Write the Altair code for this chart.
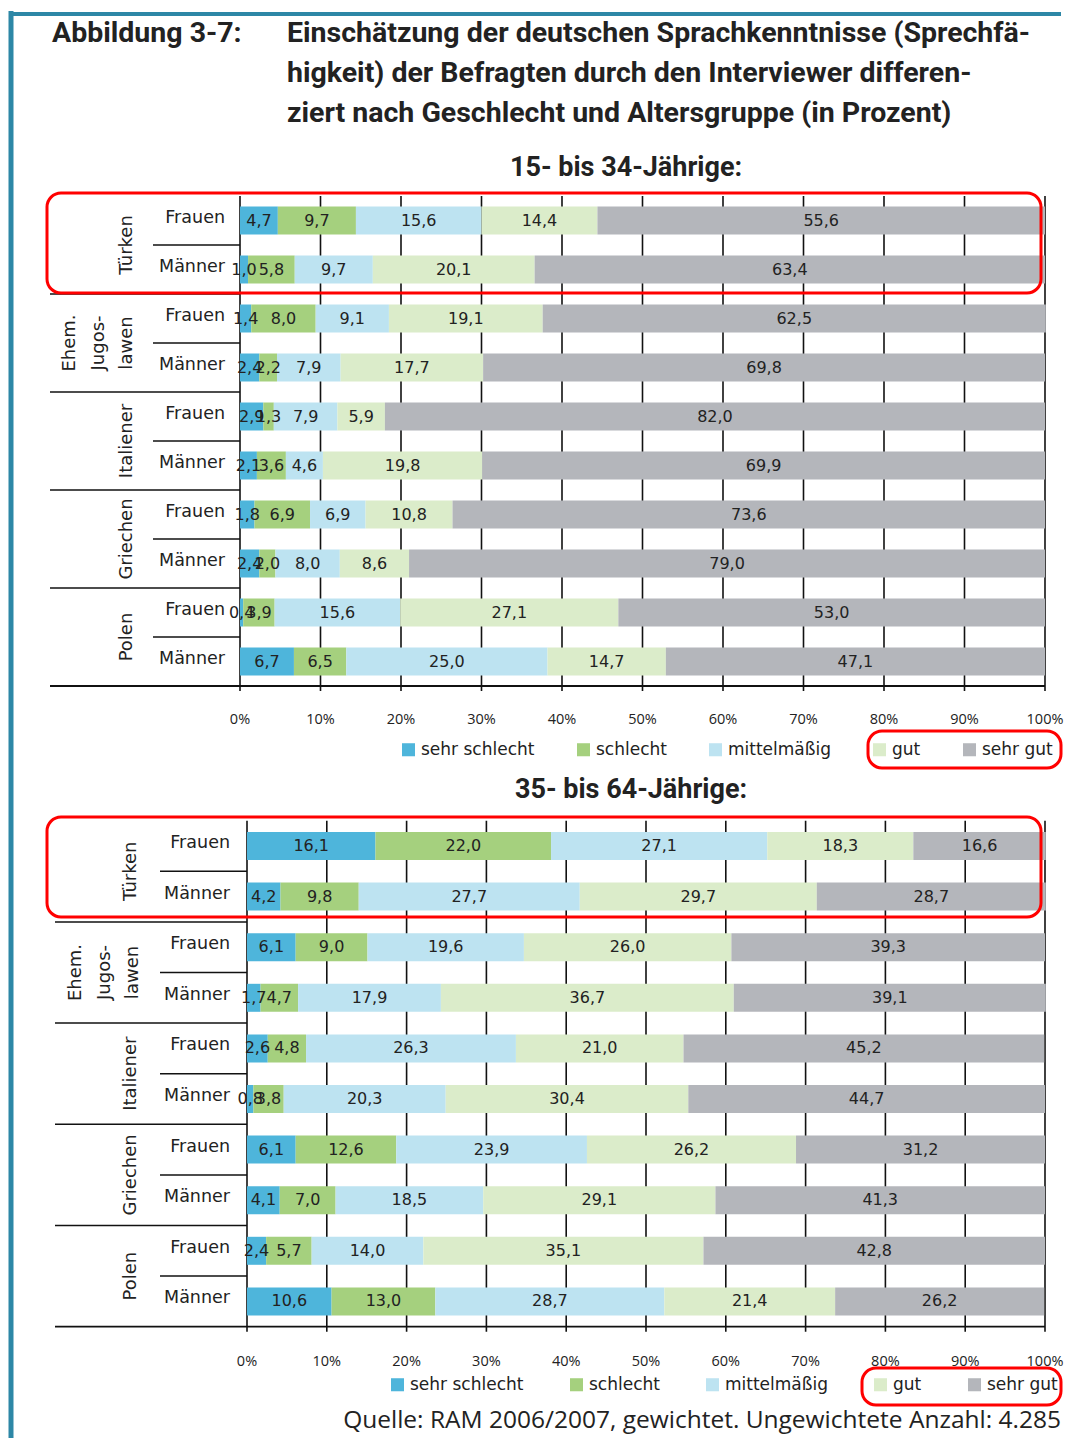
import altair as alt
import pandas as pd

# ---------------- data ----------------
categories = ["sehr schlecht", "schlecht", "mittelmäßig", "gut", "sehr gut"]
colors = ["#4eb5db", "#a5d07e", "#bde3f1", "#dbecca", "#b4b6bb"]
group_names = ["Türken", "Ehem.\nJugos-\nlawen", "Italiener", "Griechen", "Polen"]
genders = ["Frauen", "Männer"]
ticks = [0, 10, 20, 30, 40, 50, 60, 70, 80, 90, 100]

# 15- bis 34-Jährige  (je Gruppe: [Frauen], [Männer]; Werte in Reihenfolge der Kategorien)
young_tuerken = [[4.7, 9.7, 15.6, 14.4, 55.6], [1.0, 5.8, 9.7, 20.1, 63.4]]
young_jugo = [[1.4, 8.0, 9.1, 19.1, 62.5], [2.4, 2.2, 7.9, 17.7, 69.8]]
young_ital = [[2.9, 1.3, 7.9, 5.9, 82.0], [2.1, 3.6, 4.6, 19.8, 69.9]]
young_griech = [[1.8, 6.9, 6.9, 10.8, 73.6], [2.4, 2.0, 8.0, 8.6, 79.0]]
young_polen = [[0.4, 3.9, 15.6, 27.1, 53.0], [6.7, 6.5, 25.0, 14.7, 47.1]]

# 35- bis 64-Jährige
old_tuerken = [[16.1, 22.0, 27.1, 18.3, 16.6], [4.2, 9.8, 27.7, 29.7, 28.7]]
old_jugo = [[6.1, 9.0, 19.6, 26.0, 39.3], [1.7, 4.7, 17.9, 36.7, 39.1]]
old_ital = [[2.6, 4.8, 26.3, 21.0, 45.2], [0.8, 3.8, 20.3, 30.4, 44.7]]
old_griech = [[6.1, 12.6, 23.9, 26.2, 31.2], [4.1, 7.0, 18.5, 29.1, 41.3]]
old_polen = [[2.4, 5.7, 14.0, 35.1, 42.8], [10.6, 13.0, 28.7, 21.4, 26.2]]

fig_label = "Abbildung 3-7:"
title_lines = [
    "Einschätzung der deutschen Sprachkenntnisse (Sprechfä-",
    "higkeit) der Befragten durch den Interviewer differen-",
    "ziert nach Geschlecht und Altersgruppe (in Prozent)",
]
sub_young = "15- bis 34-Jährige:"
sub_old = "35- bis 64-Jährige:"
source = "Quelle: RAM 2006/2007, gewichtet. Ungewichtete Anzahl: 4.285"

# ---------------- styling ----------------
W = 1056
FONT = "DejaVu Sans"
TFONT = "Roboto"
SFONT = "Open Sans"
TXT = "#222222"
TEAL = "#2d87a6"
RED = "#ff0000"

dummy = pd.DataFrame({"k": [0]})


def build_frame(blocks):
    recs = []
    for g, block in enumerate(blocks):
        for s, vals in enumerate(block):
            r = 2 * g + s
            for c, v in enumerate(vals):
                recs.append({
                    "row": r,
                    "gruppe": group_names[g],
                    "geschlecht": genders[s],
                    "kategorie": categories[c],
                    "ord": c,
                    "wert": v,
                    "text": f"{v:.1f}".replace(".", ","),
                })
    return pd.DataFrame(recs)


def left_line(y0, h):
    return alt.Chart(dummy).mark_rule(color=TEAL, strokeWidth=5).encode(
        x=alt.value(3), y=alt.value(y0), y2=alt.value(h))


def red_box(x1, x2, y1, y2):
    return alt.Chart(dummy).mark_rect(
        fillOpacity=0, stroke=RED, strokeWidth=3, cornerRadius=14
    ).encode(x=alt.value(x1), x2=alt.value(x2), y=alt.value(y1), y2=alt.value(y2))


def bar_panel(blocks, geo, height):
    df = build_frame(blocks)
    xs = alt.Scale(domain=[0, 100], range=[geo["x0"], geo["x100"]])
    bottom = geo["top"] + 10 * geo["row_h"]
    ys = alt.Scale(domain=[0, 10], range=[geo["top"], bottom])
    bh = geo["bar_h"] / geo["row_h"]

    tick_df = pd.DataFrame({"t": ticks, "lab": [f"{t}%" for t in ticks]})
    grid = alt.Chart(tick_df).mark_rule(color="#111111", strokeWidth=1.6).encode(
        x=alt.X("t:Q", scale=xs, axis=None),
        y=alt.value(geo["top"]), y2=alt.value(bottom + 5))
    tick_labels = alt.Chart(tick_df).mark_text(
        font=SFONT, fontSize=14.5, color=TXT, baseline="middle").encode(
        x=alt.X("t:Q", scale=xs, axis=None), y=alt.value(geo["tick_y"]), text="lab:N")

    stacked = alt.Chart(df).transform_stack(
        stack="wert", as_=["x0", "x1"], groupby=["row"],
        sort=[alt.SortField("ord", order="ascending")]
    ).transform_calculate(
        ya=f"datum.row + {0.5 - bh / 2}",
        yb=f"datum.row + {0.5 + bh / 2}",
        ym="datum.row + 0.5",
        xm="(datum.x0 + datum.x1) / 2",
    )
    bars = stacked.mark_rect().encode(
        x=alt.X("x0:Q", scale=xs, axis=None), x2="x1:Q",
        y=alt.Y("ya:Q", scale=ys, axis=None), y2="yb:Q",
        color=alt.Color(
            "kategorie:N",
            scale=alt.Scale(domain=categories, range=colors),
            legend=alt.Legend(
                orient="none", legendX=geo["leg_x"], legendY=geo["leg_y"],
                direction="horizontal", title=None, symbolType="square",
                symbolSize=170, symbolStrokeWidth=0, labelFont=FONT,
                labelFontSize=17, labelColor=TXT, columnPadding=geo["leg_pad"],
                labelOffset=4, padding=0, offset=0),
        ),
    )
    values = stacked.mark_text(font=FONT, fontSize=16, color=TXT, baseline="middle").encode(
        x=alt.X("xm:Q", scale=xs, axis=None),
        y=alt.Y("ym:Q", scale=ys, axis=None), text="text:N")

    rows_df = pd.DataFrame({"row": list(range(10)), "geschlecht": genders * 5})
    gender_labels = alt.Chart(rows_df).transform_calculate(ym="datum.row + 0.5").mark_text(
        font=FONT, fontSize=17.5, color=TXT, align="right", baseline="middle", dy=-3
    ).encode(x=alt.value(geo["lab_r"]), y=alt.Y("ym:Q", scale=ys, axis=None), text="geschlecht:N")

    grp_df = pd.DataFrame({"gruppe": group_names, "mitte": [2 * g + 1 for g in range(5)]})
    single = grp_df[~grp_df["gruppe"].str.contains("\n")]
    multi = grp_df[grp_df["gruppe"].str.contains("\n")]
    grp_single = alt.Chart(single).mark_text(
        font=FONT, fontSize=18, color=TXT, angle=270, align="center", baseline="middle"
    ).encode(x=alt.value(geo["grp_x"]), y=alt.Y("mitte:Q", scale=ys, axis=None), text="gruppe:N")
    grp_multi = alt.Chart(multi).mark_text(
        font=FONT, fontSize=18, color=TXT, angle=270, align="center", baseline="middle",
        lineBreak="\n", lineHeight=28.5
    ).encode(x=alt.value(geo["grp_multi_x"]), y=alt.Y("mitte:Q", scale=ys, axis=None), text="gruppe:N")

    sub_sep = alt.Chart(pd.DataFrame({"b": [1, 3, 5, 7, 9]})).mark_rule(
        color="#111111", strokeWidth=1.5).encode(
        x=alt.value(geo["sub_l"]), x2=alt.value(geo["x0"]),
        y=alt.Y("b:Q", scale=ys, axis=None))
    grp_sep = alt.Chart(pd.DataFrame({"b": [2, 4, 6, 8]})).mark_rule(
        color="#111111", strokeWidth=1.5).encode(
        x=alt.value(geo["grp_l"]), x2=alt.value(geo["x0"]),
        y=alt.Y("b:Q", scale=ys, axis=None))
    base_line = alt.Chart(pd.DataFrame({"b": [10]})).mark_rule(
        color="#111111", strokeWidth=1.8).encode(
        x=alt.value(geo["grp_l"]), x2=alt.value(geo["x100"]),
        y=alt.Y("b:Q", scale=ys, axis=None))

    boxes = [red_box(*geo["box1"]), red_box(*geo["box2"])]

    return alt.layer(
        grid, bars, values, gender_labels, grp_single, grp_multi,
        sub_sep, grp_sep, base_line, tick_labels, left_line(0, height), *boxes
    ).properties(width=W, height=height)


# ---------------- panels ----------------
H1 = 182
title_panel = alt.layer(
    alt.Chart(dummy).mark_rule(color=TEAL, strokeWidth=4).encode(
        x=alt.value(3), x2=alt.value(W - 3), y=alt.value(6)),
    left_line(3, H1),
    alt.Chart(pd.DataFrame({"t": [fig_label]})).mark_text(
        align="left", baseline="middle", font=TFONT, fontSize=28.5, fontWeight="bold", color=TXT
    ).encode(x=alt.value(44), y=alt.value(25), text="t:N"),
    alt.Chart(pd.DataFrame({"t": ["\n".join(title_lines)]})).mark_text(
        align="left", baseline="middle", font=TFONT, fontSize=28.5, fontWeight="bold", color=TXT,
        lineBreak="\n", lineHeight=40
    ).encode(x=alt.value(279), y=alt.value(25), text="t:N"),
    alt.Chart(pd.DataFrame({"t": [sub_young]})).mark_text(
        align="center", baseline="middle", font=TFONT, fontSize=27, fontWeight="bold", color=TXT
    ).encode(x=alt.value(618), y=alt.value(160), text="t:N"),
).properties(width=W, height=H1)

H2 = 580
geo_young = dict(x0=232, x100=1037, top=6, row_h=49, bar_h=28, tick_y=530,
                 leg_x=392, leg_y=551, leg_pad=40, lab_r=217, grp_x=119, grp_multi_x=62,
                 grp_l=42, sub_l=145,
                 box1=(39, 1033, 3, 103), box2=(860, 1053, 541, 578))
young_panel = bar_panel([young_tuerken, young_jugo, young_ital, young_griech, young_polen],
                        geo_young, H2)

H3 = 42
sub_panel = alt.layer(
    left_line(0, H3),
    alt.Chart(pd.DataFrame({"t": [sub_old]})).mark_text(
        align="center", baseline="middle", font=TFONT, fontSize=27, fontWeight="bold", color=TXT
    ).encode(x=alt.value(623), y=alt.value(20), text="t:N"),
).properties(width=W, height=H3)

H4 = 588
geo_old = dict(x0=239, x100=1037, top=8.7, row_h=50.6, bar_h=28, tick_y=550,
               leg_x=381, leg_y=564, leg_pad=44, lab_r=222, grp_x=123, grp_multi_x=68,
               grp_l=47, sub_l=152,
               box1=(39, 1033, 5, 105), box2=(854, 1053, 556, 593))
old_panel = bar_panel([old_tuerken, old_jugo, old_ital, old_griech, old_polen], geo_old, H4)

H5 = 38
source_panel = alt.layer(
    left_line(0, H5),
    alt.Chart(pd.DataFrame({"t": [source]})).mark_text(
        align="right", baseline="middle", font=SFONT, fontSize=24.5, color=TXT
    ).encode(x=alt.value(1053), y=alt.value(21), text="t:N"),
).properties(width=W, height=H5)

chart = alt.vconcat(
    title_panel, young_panel, sub_panel, old_panel, source_panel,
    spacing=0, bounds="flush"
).resolve_scale(color="independent").resolve_legend(color="independent").properties(
    padding=0, background="white").configure_view(stroke=None)

chart.save("out.html", embed_options={"renderer": "svg", "actions": False})
